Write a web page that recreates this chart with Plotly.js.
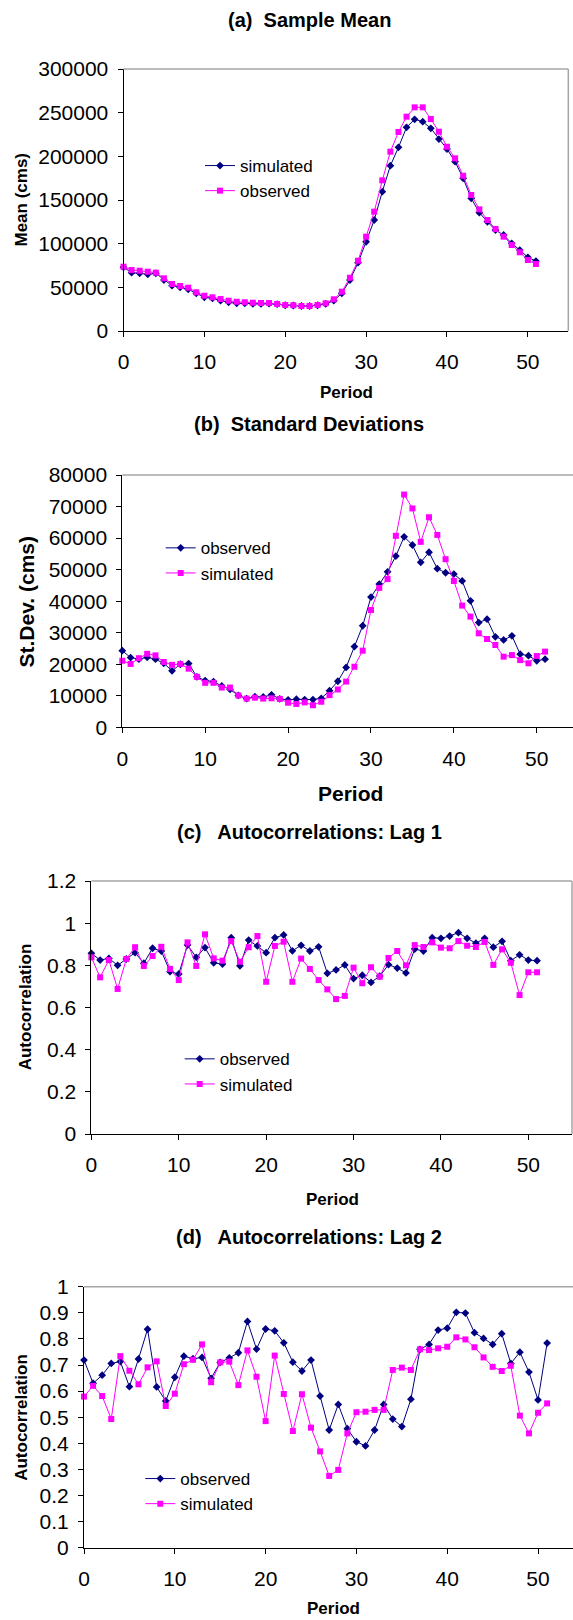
<!DOCTYPE html>
<html>
<head>
<meta charset="utf-8">
<script src="https://cdn.plot.ly/plotly-3.0.1.min.js"></script>
<style>
html,body{margin:0;padding:0;background:#fff;}
#chart{width:573px;height:1620px;}
</style>
</head>
<body>
<div id="chart"></div>
<script>
// ---------- DATA ----------
const periods = [0,1,2,3,4,5,6,7,8,9,10,11,12,13,14,15,16,17,18,19,20,21,22,23,24,25,26,27,28,29,30,31,32,33,34,35,36,37,38,39,40,41,42,43,44,45,46,47,48,49,50,51];
const xTicks = [0,10,20,30,40,50];

// (a) Sample mean
const meanSimulated = [73000,66800,66000,64900,66000,58400,51900,50000,47700,43200,38600,37400,34700,32900,31700,31700,31000,31000,31300,30700,29500,29200,28600,28600,29500,31000,34700,43200,58400,78200,102200,127100,159500,189300,210300,233200,242400,239700,232100,219800,208400,193900,174800,151900,135500,125100,115600,109900,100400,92700,84400,80100];
const meanObserved = [73600,69800,69000,67900,66800,60300,53800,51500,49600,44300,40400,38600,36600,34700,33500,32900,32400,32100,32100,30900,29800,29500,28600,28600,29800,31700,36300,45000,61000,80500,108000,136600,172500,205300,227900,245400,256100,256100,242700,228200,211000,197700,177800,155700,139300,127100,116800,108000,98500,90100,81300,76700];

// (b) Standard deviations
const sdObserved = [24300,22100,21600,22200,21600,20300,17900,20000,20200,16000,14800,14500,13100,12000,10100,9100,9700,9600,10300,9000,8700,8900,8800,8800,9200,11600,14600,19000,25600,32200,41300,45400,49300,54300,60400,57800,52300,55500,50300,49000,48600,46400,40100,33200,34300,28700,27700,29000,23200,22700,21100,21600];
const sdSimulated = [21100,20100,21900,23300,22800,20700,19800,20100,18600,16000,14100,14100,12600,12600,10100,9100,9400,9100,9200,9000,7800,7400,7900,7000,8100,10200,12000,14500,19200,24300,37200,44200,47000,60700,73800,69400,58800,66600,61000,53300,46400,38600,35100,29800,28000,26100,22400,22900,21300,20300,22600,24000];

// (c) Lag-1 autocorrelations
const lag1Observed = [0.857,0.825,0.833,0.800,0.830,0.860,0.810,0.881,0.868,0.770,0.759,0.896,0.838,0.884,0.812,0.806,0.931,0.798,0.920,0.892,0.860,0.931,0.944,0.869,0.895,0.868,0.888,0.762,0.778,0.802,0.737,0.753,0.719,0.749,0.803,0.787,0.764,0.877,0.868,0.931,0.928,0.939,0.955,0.928,0.905,0.928,0.886,0.914,0.822,0.850,0.825,0.822];
const lag1Simulated = [0.838,0.743,0.825,0.688,0.830,0.886,0.797,0.844,0.888,0.783,0.730,0.909,0.797,0.947,0.833,0.822,0.915,0.817,0.886,0.939,0.722,0.892,0.912,0.722,0.832,0.783,0.730,0.686,0.640,0.655,0.789,0.715,0.791,0.746,0.835,0.868,0.800,0.896,0.887,0.909,0.884,0.881,0.915,0.893,0.887,0.911,0.802,0.876,0.812,0.659,0.767,0.767];

// (d) Lag-2 autocorrelations
const lag2Observed = [0.719,0.630,0.661,0.706,0.713,0.617,0.723,0.837,0.616,0.562,0.653,0.734,0.724,0.729,0.649,0.710,0.727,0.747,0.867,0.761,0.838,0.831,0.785,0.711,0.677,0.719,0.581,0.451,0.549,0.456,0.406,0.390,0.451,0.549,0.493,0.464,0.569,0.760,0.779,0.834,0.841,0.902,0.899,0.824,0.802,0.779,0.820,0.706,0.749,0.673,0.566,0.784];
const lag2Simulated = [0.579,0.620,0.581,0.493,0.734,0.678,0.626,0.691,0.714,0.543,0.590,0.703,0.720,0.779,0.634,0.710,0.713,0.623,0.756,0.655,0.485,0.736,0.589,0.447,0.588,0.460,0.369,0.275,0.298,0.438,0.519,0.521,0.528,0.528,0.681,0.690,0.681,0.760,0.757,0.764,0.770,0.806,0.798,0.768,0.729,0.693,0.677,0.697,0.506,0.438,0.517,0.553];

// ---------- LAYOUT HELPERS ----------
const W = 573, H = 1620;
const NAVY = '#000080', MAG = '#FF00FF';
const FONT = 'Liberation Sans, Arial, Helvetica, sans-serif';
const px = v => v / W;
const py = v => 1 - v / H;

function navyTrace(y, name, xa, ya, lg){
  return {x: periods, y: y, name: name, xaxis: xa, yaxis: ya, legend: lg,
    type: 'scatter', mode: 'lines+markers', cliponaxis: false,
    line: {color: NAVY, width: 1},
    marker: {symbol: 'diamond', size: 6, color: NAVY}};
}
function magTrace(y, name, xa, ya, lg){
  return {x: periods, y: y, name: name, xaxis: xa, yaxis: ya, legend: lg,
    type: 'scatter', mode: 'lines+markers', cliponaxis: false,
    line: {color: MAG, width: 1},
    marker: {symbol: 'square', size: 6, color: MAG}};
}

const data = [
  navyTrace(meanSimulated, 'simulated', 'x', 'y', 'legend'),
  magTrace(meanObserved, 'observed', 'x', 'y', 'legend'),
  navyTrace(sdObserved, 'observed', 'x2', 'y2', 'legend2'),
  magTrace(sdSimulated, 'simulated', 'x2', 'y2', 'legend2'),
  navyTrace(lag1Observed, 'observed', 'x3', 'y3', 'legend3'),
  magTrace(lag1Simulated, 'simulated', 'x3', 'y3', 'legend3'),
  navyTrace(lag2Observed, 'observed', 'x4', 'y4', 'legend4'),
  magTrace(lag2Simulated, 'simulated', 'x4', 'y4', 'legend4')
];

// panel geometry (pixels)
const P = [
  {l:123.5, r:568.3, t:69,    b:331,    xr:[0,55],    yr:[0,300000], dt:50000, fmt:'d'},
  {l:122.3, r:573,   t:475,   b:727.3,  xr:[0,54.37], yr:[0,80000],  dt:10000, fmt:'d'},
  {l:91.4,  r:572,   t:881,   b:1134,   xr:[0,55],    yr:[0,1.2],    dt:0.2,   fmt:''},
  {l:84,    r:573,   t:1286.7,b:1547.7, xr:[0,53.85], yr:[0,1],      dt:0.1,   fmt:''}
];

function xAxis(p, yname){
  return {domain:[px(p.l), px(p.r)], range:p.xr, anchor:yname,
    tickmode:'array', tickvals:xTicks, ticks:'outside', ticklen:5, tickcolor:'#000', tickwidth:1,
    showline:true, linecolor:'#000', linewidth:1, showgrid:false, zeroline:false,
    tickfont:{family:FONT, size:21, color:'#000'}, ticklabelstandoff:7, fixedrange:true};
}
function yAxis(p, xname){
  return {domain:[py(p.b), py(p.t)], range:p.yr, anchor:xname, dtick:p.dt, tick0:0,
    tickformat:p.fmt, separatethousands:false, exponentformat:'none',
    ticks:'outside', ticklen:5, tickcolor:'#000', tickwidth:1,
    showline:true, linecolor:'#000', linewidth:1, showgrid:false, zeroline:false,
    tickfont:{family:FONT, size:21, color:'#000'}, ticklabelstandoff:5, fixedrange:true};
}

const shapes = [];
P.forEach((p, i) => {
  shapes.push({type:'line', xref:'paper', yref:'paper', x0:px(p.l), x1:px(p.r), y0:py(p.t), y1:py(p.t),
    line:{color:'#a6a6a6', width:1.5}});
  if (i === 0 || i === 2) {
    shapes.push({type:'line', xref:'paper', yref:'paper', x0:px(p.r), x1:px(p.r), y0:py(p.t), y1:py(p.b),
      line:{color:'#a6a6a6', width:1.5}});
  }
});

function ann(text, x, y, size, angle){
  return {text:'<b>'+text+'</b>', xref:'paper', yref:'paper', x:px(x), y:py(y),
    xanchor:'center', yanchor:'middle', showarrow:false, textangle:angle||0,
    font:{family:FONT, size:size, color:'#000'}};
}
const annotations = [
  ann('(a)  Sample Mean', 309, 20, 20),
  ann('Period', 346, 392, 17),
  ann('Mean (cms)', 20.5, 200, 17, -90),
  ann('(b)  Standard Deviations', 309, 424, 20),
  ann('Period', 350, 793, 21),
  ann('St.Dev. (cms)', 26.5, 602, 21, -90),
  ann('(c)   Autocorrelations: Lag 1', 309, 832, 20),
  ann('Period', 332, 1199, 17),
  ann('Autocorrelation', 26.3, 1007, 17, -90),
  ann('(d)   Autocorrelations: Lag 2', 309, 1237, 20),
  ann('Period', 333, 1608, 17),
  ann('Autocorrelation', 20.8, 1417, 17, -90)
];

function legendAt(xText, yRow){
  return {x:px(xText - 26), y:py(yRow - 13), xanchor:'left', yanchor:'top',
    bgcolor:'rgba(0,0,0,0)', borderwidth:0, tracegroupgap:0,
    font:{family:FONT, size:17, color:'#000'}};
}

const layout = {
  width:W, height:H, margin:{l:0, r:0, t:0, b:0},
  paper_bgcolor:'#fff', plot_bgcolor:'rgba(0,0,0,0)',
  font:{family:FONT, color:'#000'},
  showlegend:true,
  xaxis: xAxis(P[0], 'y'),  yaxis: yAxis(P[0], 'x'),
  xaxis2: xAxis(P[1], 'y2'), yaxis2: yAxis(P[1], 'x2'),
  xaxis3: xAxis(P[2], 'y3'), yaxis3: yAxis(P[2], 'x3'),
  xaxis4: xAxis(P[3], 'y4'), yaxis4: yAxis(P[3], 'x4'),
  legend: legendAt(226, 161),
  legend2: legendAt(186.7, 543.3),
  legend3: legendAt(205.7, 1054.3),
  legend4: legendAt(166.3, 1474),
  shapes: shapes,
  annotations: annotations
};

Plotly.newPlot('chart', data, layout, {displayModeBar:false, staticPlot:true});
</script>
</body>
</html>
